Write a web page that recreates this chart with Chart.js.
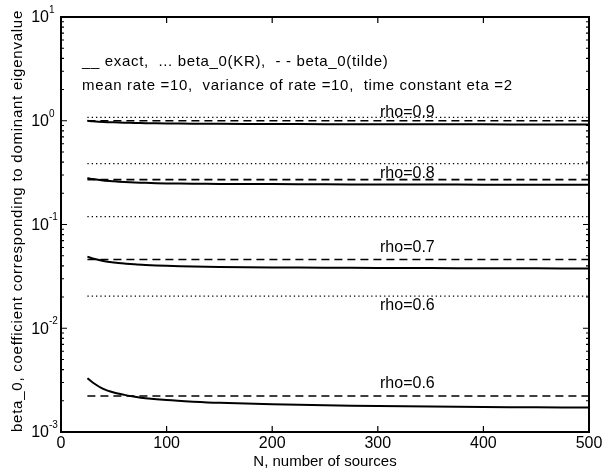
<!DOCTYPE html>
<html>
<head>
<meta charset="utf-8">
<script src="https://cdn.jsdelivr.net/npm/chart.js@4.4.1/dist/chart.umd.min.js"></script>
<style>
  html, body { margin: 0; padding: 0; background: #fff; }
  #wrap { width: 603px; height: 472px; }
</style>
</head>
<body>
<div id="wrap"><canvas id="chart"></canvas></div>
<script>
// Values (log y axis)
const nValues = [25, 30, 40, 50, 60, 70, 80, 100, 125, 150, 200, 250, 300, 350, 400, 450, 500];
const exact09 = [1.0, 0.99, 0.975, 0.965, 0.958, 0.952, 0.948, 0.942, 0.937, 0.934, 0.93, 0.927, 0.925, 0.924, 0.923, 0.922, 0.921];
const exact08 = [0.28, 0.274, 0.266, 0.261, 0.257, 0.254, 0.252, 0.249, 0.247, 0.246, 0.245, 0.244, 0.243, 0.243, 0.242, 0.242, 0.242];
const exact07 = [0.049, 0.047, 0.0445, 0.043, 0.042, 0.0413, 0.0407, 0.04, 0.0394, 0.039, 0.0386, 0.0383, 0.0381, 0.038, 0.0379, 0.0378, 0.0377];
const exact06 = [0.0033, 0.003, 0.0026, 0.0024, 0.00228, 0.00219, 0.00212, 0.00203, 0.00196, 0.00191, 0.00185, 0.00181, 0.00178, 0.00176, 0.00174, 0.00173, 0.00172];
const tildeLevels = [1.0, 0.271, 0.046, 0.00222];   // beta_0(tilde), dashed
const krLevels = [1.08, 0.386, 0.119, 0.0204];       // beta_0(KR), dotted
const nRange = [25, 500];

const rhoText = ['rho=0.9', 'rho=0.8', 'rho=0.7', 'rho=0.6', 'rho=0.6'];
const rhoLabelY = [1.19, 0.31, 0.06, 0.0166, 0.00296];
const rhoLabelN = 328;

const xTicks = [0, 100, 200, 300, 400, 500];
const yDecades = [-3, -2, -1, 0, 1];

const FONT = '"Liberation Sans", Arial, sans-serif';

function pts(xs, ys) {
  return xs.map((x, i) => ({ x: x, y: ys[i] }));
}
function flat(v) {
  return nRange.map(n => ({ x: n, y: v }));
}

const datasets = [];
[exact09, exact08, exact07, exact06].forEach(s => {
  datasets.push({ data: pts(nValues, s), borderColor: '#000', borderWidth: 2, tension: 0.3 });
});
tildeLevels.forEach(v => {
  datasets.push({ data: flat(v), borderColor: '#000', borderWidth: 1.6, borderDash: [8, 5] });
});
krLevels.forEach(v => {
  datasets.push({ data: flat(v), borderColor: '#000', borderWidth: 1.3, borderDash: [1.3, 3] });
});

// draw text stretched with letter spacing to a given width (the scan's font runs wide)
function fitText(ctx, text, x, y, width) {
  ctx.letterSpacing = '0px';
  const w = ctx.measureText(text).width;
  const sp = (width - w) / Math.max(1, text.length - 1);
  ctx.letterSpacing = sp.toFixed(2) + 'px';
  ctx.fillText(text, x, y);
  ctx.letterSpacing = '0px';
}

// Frame, inside ticks, tick labels with exponents, text annotations
const matlabAxes = {
  id: 'matlabAxes',
  afterDraw(chart) {
    const ctx = chart.ctx;
    const a = chart.chartArea;
    const xs = chart.scales.x;
    const ys = chart.scales.y;
    ctx.save();
    ctx.strokeStyle = '#000';
    ctx.fillStyle = '#000';

    // ticks
    ctx.lineWidth = 1.2;
    ctx.beginPath();
    xTicks.forEach(t => {
      const px = xs.getPixelForValue(t);
      ctx.moveTo(px, a.bottom); ctx.lineTo(px, a.bottom - 6);
      ctx.moveTo(px, a.top); ctx.lineTo(px, a.top + 6);
    });
    yDecades.forEach((d, i) => {
      const py = ys.getPixelForValue(Math.pow(10, d));
      ctx.moveTo(a.left, py); ctx.lineTo(a.left + 6, py);
      ctx.moveTo(a.right, py); ctx.lineTo(a.right - 6, py);
      if (i < yDecades.length - 1) {
        for (let m = 2; m <= 9; m++) {
          const pm = ys.getPixelForValue(m * Math.pow(10, d));
          ctx.moveTo(a.left, pm); ctx.lineTo(a.left + 3, pm);
          ctx.moveTo(a.right, pm); ctx.lineTo(a.right - 3, pm);
        }
      }
    });
    ctx.stroke();

    // frame
    ctx.lineWidth = 2;
    ctx.strokeRect(a.left, a.top, a.right - a.left, a.bottom - a.top);

    // x tick labels
    ctx.font = '16px ' + FONT;
    ctx.textAlign = 'center';
    ctx.textBaseline = 'middle';
    xTicks.forEach(t => {
      ctx.fillText(String(t), xs.getPixelForValue(t), a.bottom + 12);
    });

    // y tick labels 10^d
    yDecades.forEach(d => {
      const py = ys.getPixelForValue(Math.pow(10, d));
      ctx.font = '16px ' + FONT;
      ctx.textAlign = 'right';
      ctx.textBaseline = 'middle';
      ctx.fillText('10', a.left - 12, py + 1);
      ctx.font = '10px ' + FONT;
      ctx.textAlign = 'left';
      ctx.fillText(String(d), a.left - 12, py - 7);
    });

    // axis titles
    ctx.font = '15px ' + FONT;
    ctx.textAlign = 'center';
    ctx.textBaseline = 'middle';
    ctx.fillText('N, number of sources', (a.left + a.right) / 2, 462);
    ctx.save();
    ctx.translate(18, 222);
    ctx.rotate(-Math.PI / 2);
    ctx.textAlign = 'left';
    fitText(ctx, 'beta_0, coefficient corresponding to dominant eigenvalue', -210, 0, 421);
    ctx.restore();

    // annotations
    ctx.font = '15px ' + FONT;
    ctx.textAlign = 'left';
    fitText(ctx, '__ exact,  ... beta_0(KR),  - - beta_0(tilde)', 82, 62, 306);
    fitText(ctx, 'mean rate =10,  variance of rate =10,  time constant eta =2', 82, 86, 430);

    ctx.font = '16px ' + FONT;
    ctx.textAlign = 'center';
    rhoText.forEach((t, i) => {
      ctx.fillText(t, xs.getPixelForValue(rhoLabelN), ys.getPixelForValue(rhoLabelY[i]));
    });
    ctx.restore();
  }
};

new Chart(document.getElementById('chart'), {
  type: 'line',
  data: { datasets: datasets },
  options: {
    responsive: true,
    maintainAspectRatio: false,
    animation: false,
    events: [],
    layout: { padding: { left: 61, top: 17, right: 14, bottom: 40 } },
    elements: { point: { radius: 0 } },
    plugins: { legend: { display: false }, tooltip: { enabled: false } },
    scales: {
      x: { type: 'linear', min: 0, max: 500, display: false },
      y: { type: 'logarithmic', min: 0.001, max: 10, display: false }
    }
  },
  plugins: [matlabAxes]
});
</script>
</body>
</html>
